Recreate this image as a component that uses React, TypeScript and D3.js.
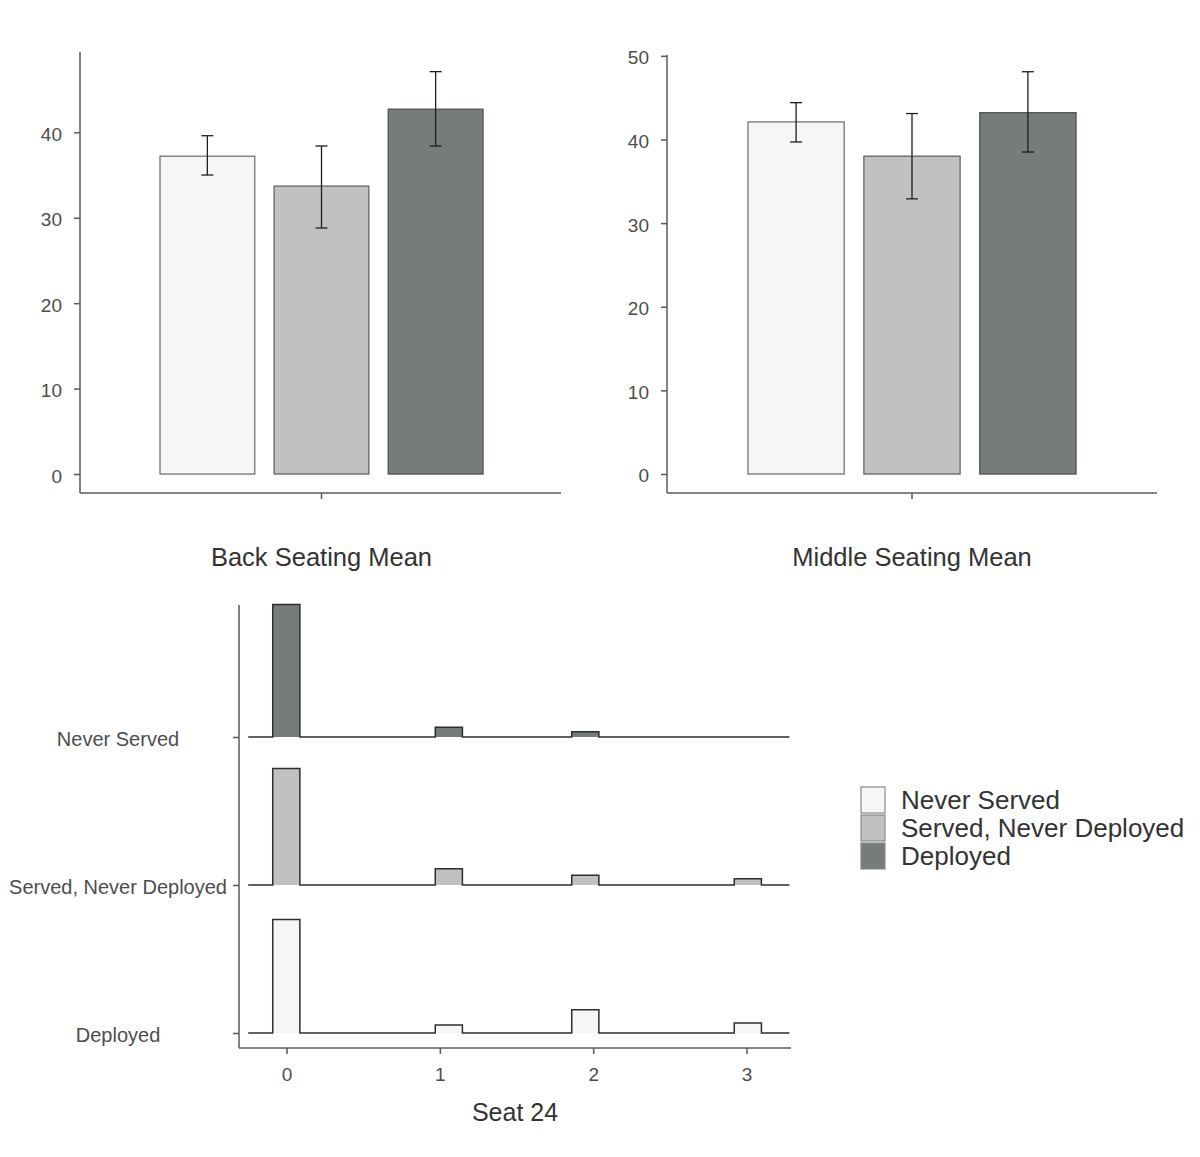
import * as d3 from "d3"
import React from "react"

// groups shared by all panels
const groups = ["Never Served", "Served, Never Deployed", "Deployed"]
const groupFills = ["#f6f6f6", "#c1c1c1", "#787b7b"]
const groupStrokes = ["#7d7d7d", "#6e6e6e", "#555858"]

// top panels: means with error bar limits
const backMean = [37.2, 33.7, 42.7]
const backLower = [35.0, 28.8, 38.4]
const backUpper = [39.6, 38.4, 47.1]
const middleMean = [42.1, 38.0, 43.2]
const middleLower = [39.7, 32.9, 38.5]
const middleUpper = [44.4, 43.1, 48.1]
const backTicks = [0, 10, 20, 30, 40]
const middleTicks = [0, 10, 20, 30, 40, 50]

// bottom panel: histogram ridges for Seat 24
const seatTicks = [0, 1, 2, 3]
const binStarts = [-0.09, 0.97, 1.86, 2.92]
const binWidth = 0.177
const ridgeRows = ["Never Served", "Served, Never Deployed", "Deployed"]
const ridgeFills = ["#787b7b", "#c1c1c1", "#f6f6f6"]
const ridgeNeverServed = [0.883, 0.065, 0.035, 0]
const ridgeServed = [0.777, 0.108, 0.065, 0.041]
const ridgeDeployed = [0.757, 0.053, 0.155, 0.067]

const font = "Arial, 'Liberation Sans', sans-serif"
const axisColor = "#5a5a5a"
const tickColor = "#4d4d4d"
const titleColor = "#333333"

const drawBarPanel = (svg: any, o: any) => {
  const x = d3.scaleBand(groups, [o.barStart, o.barEnd]).paddingInner(0.17).paddingOuter(0)
  const y = d3.scaleLinear(o.yDomain, [o.axisBottom, o.axisTop])
  const g = svg.append("g")

  g.selectAll("rect")
    .data(groups)
    .join("rect")
    .attr("x", (d: any) => x(d))
    .attr("y", (d: any, i: number) => y(o.means[i]))
    .attr("width", x.bandwidth())
    .attr("height", (d: any, i: number) => y(0) - y(o.means[i]))
    .attr("fill", (d: any, i: number) => groupFills[i])
    .attr("stroke", (d: any, i: number) => groupStrokes[i])
    .attr("stroke-width", 1.4)

  // error bars
  const err = g.append("g").attr("stroke", "#1e1e1e").attr("stroke-width", 1.3)
  groups.forEach((d, i) => {
    const cx = (x(d) as number) + x.bandwidth() / 2
    err.append("line").attr("x1", cx).attr("x2", cx).attr("y1", y(o.upper[i])).attr("y2", y(o.lower[i]))
    err.append("line").attr("x1", cx - 6).attr("x2", cx + 6).attr("y1", y(o.upper[i])).attr("y2", y(o.upper[i]))
    err.append("line").attr("x1", cx - 6).attr("x2", cx + 6).attr("y1", y(o.lower[i])).attr("y2", y(o.lower[i]))
  })

  g.append("g")
    .attr("transform", `translate(${o.axisLeft},0)`)
    .call(d3.axisLeft(y).tickValues(o.ticks).tickSize(6).tickPadding(12))
    .attr("font-family", font)
    .attr("font-size", 19)
    .call((a: any) => a.select(".domain").remove())
    .call((a: any) => a.selectAll(".tick line").attr("stroke", axisColor).attr("stroke-width", 1.5))
    .call((a: any) => a.selectAll(".tick text").attr("fill", tickColor).attr("dy", "0.42em"))

  const axes = g.append("g").attr("stroke", axisColor).attr("stroke-width", 1.5)
  axes.append("line").attr("x1", o.axisLeft).attr("x2", o.axisLeft).attr("y1", o.axisTop).attr("y2", o.axisBottom)
  axes.append("line").attr("x1", o.axisLeft).attr("x2", o.axisRight).attr("y1", o.axisBottom).attr("y2", o.axisBottom)
  const mid = (o.barStart + o.barEnd) / 2
  axes.append("line").attr("x1", mid).attr("x2", mid).attr("y1", o.axisBottom).attr("y2", o.axisBottom + 6)

  g.append("text")
    .attr("x", mid)
    .attr("y", 566)
    .attr("text-anchor", "middle")
    .attr("font-family", font)
    .attr("font-size", 25.5)
    .attr("fill", titleColor)
    .text(o.title)
}

const drawRidges = (svg: any) => {
  const x = d3.scaleLinear([-0.31, 3.29], [239, 791])
  const y = d3.scalePoint(ridgeRows, [737, 1033])
  const h = d3.scaleLinear([0, 1], [0, 150])
  const rows = [ridgeNeverServed, ridgeServed, ridgeDeployed]
  const g = svg.append("g")

  rows.forEach((vals, r) => {
    const base = y(ridgeRows[r]) as number
    g.append("g")
      .selectAll("rect")
      .data(vals)
      .join("rect")
      .attr("x", (d: number, i: number) => x(binStarts[i]))
      .attr("y", (d: number) => base - h(d))
      .attr("width", x(binWidth) - x(0))
      .attr("height", (d: number) => h(d))
      .attr("fill", ridgeFills[r])

    const pts: [number, number][] = [[-0.25, 0]]
    vals.forEach((v, i) => {
      pts.push([binStarts[i], 0], [binStarts[i], v], [binStarts[i] + binWidth, v], [binStarts[i] + binWidth, 0])
    })
    pts.push([3.28, 0])
    const line = d3.line().x((p: any) => x(p[0])).y((p: any) => base - h(p[1]))
    g.append("path")
      .attr("d", line(pts))
      .attr("fill", "none")
      .attr("stroke", "#2e2e2e")
      .attr("stroke-width", 1.5)
  })

  g.append("g")
    .attr("transform", "translate(239,0)")
    .call(d3.axisLeft(y).tickSize(6))
    .attr("font-family", font)
    .attr("font-size", 20)
    .call((a: any) => a.select(".domain").remove())
    .call((a: any) => a.selectAll(".tick line").attr("stroke", axisColor).attr("stroke-width", 1.5))
    .call((a: any) => a.selectAll(".tick text").attr("fill", tickColor).attr("text-anchor", "middle").attr("x", -121).attr("dy", "0.42em"))

  g.append("g")
    .attr("transform", "translate(0,1048)")
    .call(d3.axisBottom(x).tickValues(seatTicks).tickFormat(d3.format("d")).tickSize(6).tickPadding(14))
    .attr("font-family", font)
    .attr("font-size", 19)
    .call((a: any) => a.select(".domain").remove())
    .call((a: any) => a.selectAll(".tick line").attr("stroke", axisColor).attr("stroke-width", 1.5))
    .call((a: any) => a.selectAll(".tick text").attr("fill", tickColor))

  const axes = g.append("g").attr("stroke", axisColor).attr("stroke-width", 1.5)
  axes.append("line").attr("x1", 239).attr("x2", 239).attr("y1", 605).attr("y2", 1048)
  axes.append("line").attr("x1", 239).attr("x2", 791).attr("y1", 1048).attr("y2", 1048)

  g.append("text")
    .attr("x", 515)
    .attr("y", 1121)
    .attr("text-anchor", "middle")
    .attr("font-family", font)
    .attr("font-size", 25)
    .attr("fill", titleColor)
    .text("Seat 24")
}

const drawLegend = (svg: any) => {
  const g = svg.append("g")
  const item = g.selectAll("g")
    .data(groups)
    .join("g")
    .attr("transform", (d: any, i: number) => `translate(861,${787 + i * 28})`)
  item.append("rect")
    .attr("width", 24)
    .attr("height", 26)
    .attr("fill", (d: any, i: number) => groupFills[i])
    .attr("stroke", "#8a8a8a")
    .attr("stroke-width", 1.2)
  item.append("text")
    .attr("x", 40)
    .attr("y", 22)
    .attr("font-family", font)
    .attr("font-size", 26)
    .attr("fill", titleColor)
    .text((d: any) => d)
}

const App = () => {
  const ref = React.useRef<SVGSVGElement>(null)

  React.useEffect(() => {
    const svg = d3.select(ref.current)
    svg.selectAll("*").remove()
    svg.append("rect").attr("width", 1200).attr("height", 1157).attr("fill", "#ffffff")

    drawBarPanel(svg, {
      axisLeft: 80, axisRight: 561, axisTop: 52, axisBottom: 493,
      barStart: 160, barEnd: 483, yDomain: [-2.22, 49.4],
      means: backMean, lower: backLower, upper: backUpper,
      ticks: backTicks, title: "Back Seating Mean",
    })
    drawBarPanel(svg, {
      axisLeft: 667, axisRight: 1157, axisTop: 55, axisBottom: 493,
      barStart: 748, barEnd: 1076, yDomain: [-2.27, 50.1],
      means: middleMean, lower: middleLower, upper: middleUpper,
      ticks: middleTicks, title: "Middle Seating Mean",
    })
    drawRidges(svg)
    drawLegend(svg)
  }, [])

  return <svg ref={ref} width={1200} height={1157} style={{ position: "absolute", left: 0, top: 0 }} />
}

export default App
